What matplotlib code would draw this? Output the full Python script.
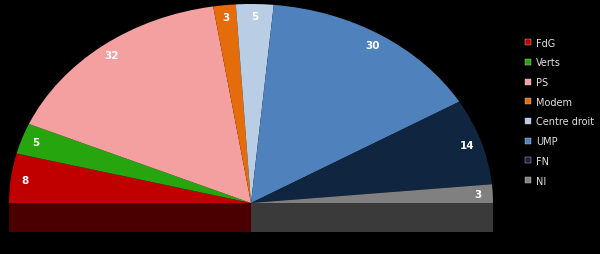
import matplotlib.pyplot as plt
import numpy as np
from matplotlib.patches import Rectangle
from matplotlib.lines import Line2D

parties = ['FdG', 'Verts', 'PS', 'Modem', 'Centre droit', 'UMP', 'FN', 'NI']
seats = [8, 5, 32, 3, 5, 30, 14, 3]
colors = ['#c00000', '#26a50e', '#f4a0a0', '#e46c0a', '#b9cde5', '#4f81bd', '#10253f', '#808080']

fig = plt.figure(figsize=(6, 2.55), dpi=100, facecolor='black')
ax = fig.add_axes([0, 0, 1, 1])
ax.set_facecolor('black')

# hemicycle: real seats + an invisible half underneath
wedges, _ = ax.pie(seats + [sum(seats)], colors=colors + ['none'],
                   startangle=180, counterclock=False,
                   wedgeprops=dict(linewidth=0))

# seat counts near the outer edge
for w, n in zip(wedges[:-1], seats):
    a = np.deg2rad((w.theta1 + w.theta2) / 2)
    ax.text(0.94 * np.cos(a), 0.94 * np.sin(a), str(n), color='white',
            fontsize=7.5, fontweight='bold', ha='center', va='center')

# side face of the cut half
depth = 0.146
ax.add_patch(Rectangle((-1, -depth), 1, depth, facecolor='#4a0000', edgecolor='none'))
ax.add_patch(Rectangle((0, -depth), 1, depth, facecolor='#3a3a3a', edgecolor='none'))

ax.set_aspect('auto')
ax.set_xlim(-251 / 242, 349 / 242)
ax.set_ylim(-51 / 199, 204 / 199)
ax.axis('off')

handles = [Line2D([], [], marker='s', linestyle='none', markersize=4,
                  markerfacecolor=c, markeredgecolor='#cccccc', markeredgewidth=0.3)
           for c in colors]
leg = fig.legend(handles, parties, loc='upper left', bbox_to_anchor=(0.867, 0.868),
                 frameon=False, fontsize=7, labelspacing=1.0,
                 handlelength=0.6, handletextpad=0.5, borderpad=0)
for t in leg.get_texts():
    t.set_color('#e0e0e0')

fig.savefig('out.png', dpi=100, facecolor='black')
